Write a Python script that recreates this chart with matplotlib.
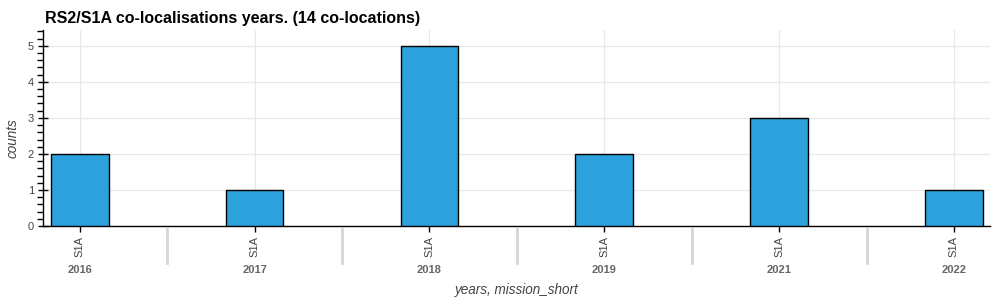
import matplotlib
matplotlib.use("Agg")
import matplotlib.pyplot as plt
from matplotlib.ticker import MultipleLocator
from matplotlib.transforms import blended_transform_factory

years = ["2016", "2017", "2018", "2019", "2021", "2022"]
missions = ["S1A", "S1A", "S1A", "S1A", "S1A", "S1A"]
counts = [2, 1, 5, 2, 3, 1]

plt.rcParams['font.family'] = ['Liberation Sans', 'DejaVu Sans']

fig = plt.figure(figsize=(10, 3), dpi=100)
ax = fig.add_axes([0.043, 0.2467, 0.947, 0.6533])

x = list(range(len(years)))
ax.bar(x, counts, width=0.33, color='#2ca1db', edgecolor='black', linewidth=1, zorder=3)

ax.set_xlim(-0.21, len(years) - 1 + 0.206)
ax.set_ylim(0, 5.44)

for s in ['top', 'right']:
    ax.spines[s].set_visible(False)
for s in ['left', 'bottom']:
    ax.spines[s].set_linewidth(1)
    ax.spines[s].set_color('black')

ax.yaxis.set_major_locator(MultipleLocator(1))
ax.yaxis.set_minor_locator(MultipleLocator(0.2))
ax.tick_params(axis='y', which='major', direction='inout', length=7, width=1, labelsize=8, labelcolor='#444444', pad=3)
ax.tick_params(axis='y', which='minor', direction='out', length=4, width=1)

ax.set_xticks(x)
ax.set_xticklabels(missions, rotation=90)
ax.tick_params(axis='x', which='major', direction='inout', length=8, width=1, labelsize=8, labelcolor='#444444', pad=3)

ax.grid(True, which='major', color='#e8e8e8', linewidth=0.9, zorder=0)
ax.set_axisbelow(True)

tr = blended_transform_factory(ax.transData, fig.transFigure)
for i, yr in enumerate(years):
    ax.text(i, 1 - 270 / 300, yr, transform=tr, ha='center', va='center',
            fontsize=8, fontweight='bold', color='#666666')
for i in range(len(years) - 1):
    ax.plot([i + 0.5, i + 0.5], [1 - 229 / 300, 1 - 263 / 300], transform=tr,
            color='#d6d6d6', linewidth=2, clip_on=False)

fig.text(0.517, 1 - 290 / 300, "years, mission_short", ha='center', va='center',
         fontsize=9.75, fontstyle='italic', color='#444444')
fig.text(0.013, 1 - 138 / 300, "counts", ha='center', va='center', rotation=90,
         fontsize=9.75, fontstyle='italic', color='#444444')
fig.text(0.045, 1 - 18 / 300, "RS2/S1A co-localisations years. (14 co-locations)",
         ha='left', va='center', fontsize=11.5, fontweight='bold', color='black')

fig.savefig("out.png", dpi=100)
